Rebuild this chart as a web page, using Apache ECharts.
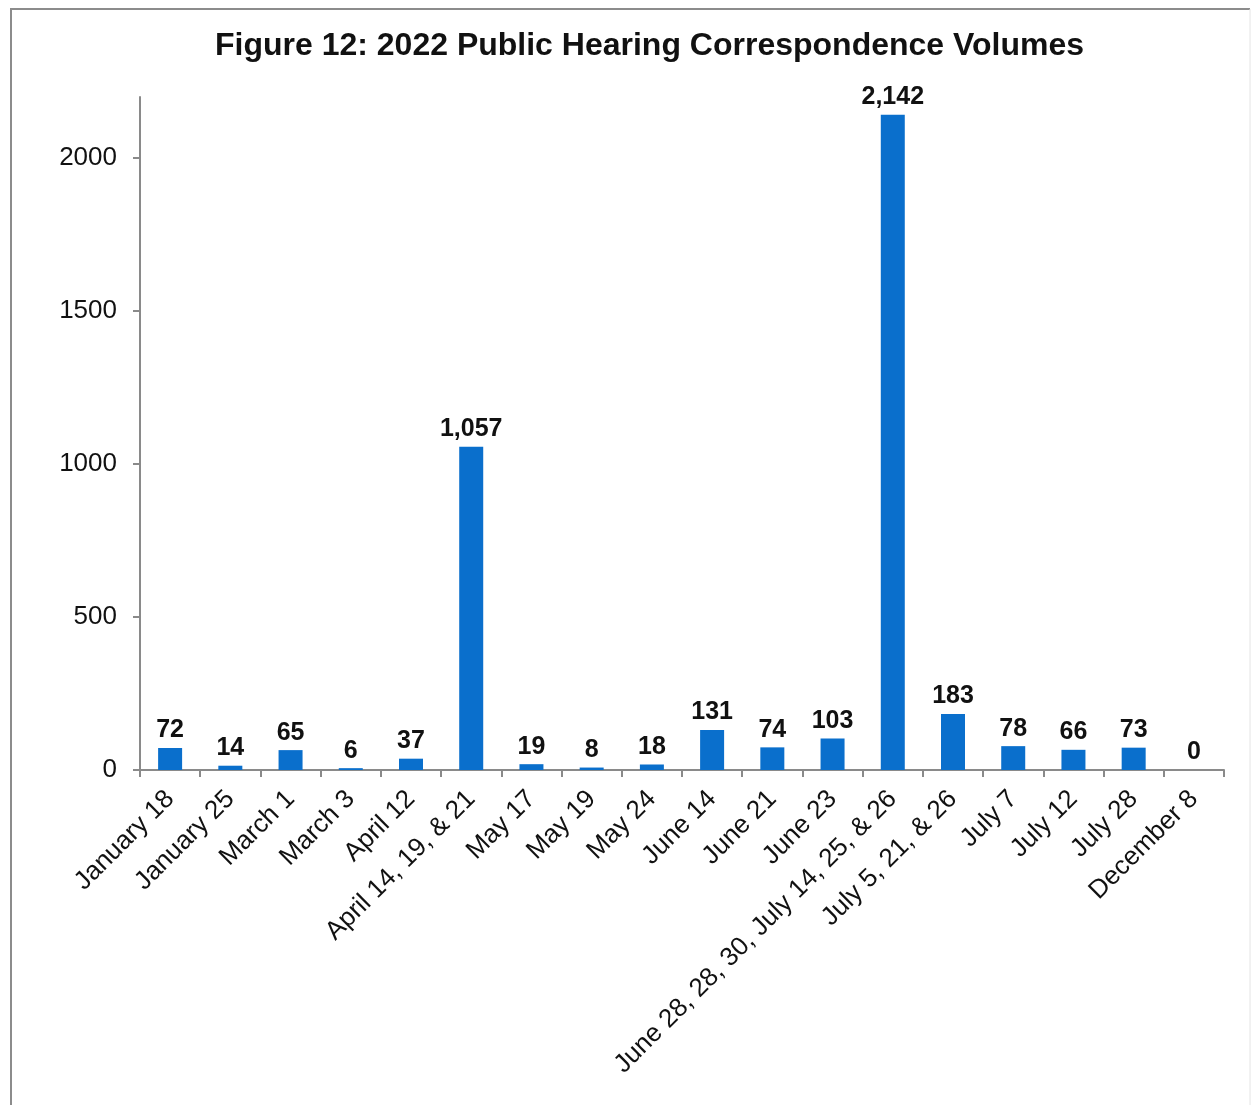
<!DOCTYPE html>
<html>
<head>
<meta charset="utf-8">
<title>Figure 12: 2022 Public Hearing Correspondence Volumes</title>
<script src="https://cdn.jsdelivr.net/npm/echarts@6/dist/echarts.min.js"></script>
<style>
  html, body { margin: 0; padding: 0; background: #ffffff; }
  #chart { width: 1252px; height: 1105px; }
</style>
</head>
<body>
<div id="chart"></div>
<script>
// Hearing dates (categories) and the number of pieces of correspondence for each
const hearingDates = [
  'January 18', 'January 25', 'March 1', 'March 3', 'April 12',
  'April 14, 19, & 21', 'May 17', 'May 19', 'May 24', 'June 14',
  'June 21', 'June 23', 'June 28, 28, 30, July 14, 25, & 26',
  'July 5, 21, & 26', 'July 7', 'July 12', 'July 28', 'December 8'
];
const correspondenceCounts = [
  72, 14, 65, 6, 37, 1057, 19, 8, 18, 131, 74, 103, 2142, 183, 78, 66, 73, 0
];
const yTickValues = [0, 500, 1000, 1500, 2000];

const chart = echarts.init(document.getElementById('chart'), null, { renderer: 'canvas' });

const fontFamily = 'Arial, "Liberation Sans", Helvetica, sans-serif';
const axisGray = '#8a8a8a';

chart.setOption({
  animation: false,
  backgroundColor: '#ffffff',
  title: {
    text: 'Figure 12: 2022 Public Hearing Correspondence Volumes',
    left: 210,
    top: 25,
    textStyle: {
      fontFamily: fontFamily,
      fontSize: 32,
      fontWeight: 'bold',
      color: '#111111'
    }
  },
  graphic: [
    // figure frame: top, left and a faint right edge
    { type: 'line', shape: { x1: 10, y1: 9, x2: 1250, y2: 9 }, style: { stroke: '#8c8c8c', lineWidth: 2 } },
    { type: 'line', shape: { x1: 11, y1: 9, x2: 11, y2: 1105 }, style: { stroke: '#8c8c8c', lineWidth: 2 } },
    { type: 'line', shape: { x1: 1250, y1: 9, x2: 1250, y2: 1105 }, style: { stroke: '#e4e4e4', lineWidth: 1 } }
  ],
  grid: {
    left: 140,
    right: 28,
    top: 97,
    bottom: 335,
    containLabel: false
  },
  xAxis: {
    type: 'category',
    data: hearingDates,
    boundaryGap: true,
    axisLine: { lineStyle: { color: axisGray, width: 2 } },
    axisTick: { show: true, alignWithLabel: false, length: 7, lineStyle: { color: axisGray, width: 2 } },
    axisLabel: {
      interval: 0,
      rotate: 45,
      margin: 25,
      fontFamily: fontFamily,
      fontSize: 26,
      color: '#111111'
    }
  },
  yAxis: {
    type: 'value',
    min: 0,
    max: 2200,
    interval: 500,
    splitLine: { show: false },
    axisLine: { show: true, lineStyle: { color: axisGray, width: 2 } },
    axisTick: { show: true, length: 7, customValues: yTickValues, lineStyle: { color: axisGray, width: 2 } },
    axisLabel: {
      customValues: yTickValues,
      margin: 23,
      fontFamily: fontFamily,
      fontSize: 26,
      color: '#111111',
      formatter: v => String(v)
    }
  },
  series: [{
    type: 'bar',
    data: correspondenceCounts,
    barWidth: 24,
    itemStyle: { color: '#0a6fcc' },
    label: {
      show: true,
      position: 'top',
      distance: 5,
      fontFamily: fontFamily,
      fontSize: 25,
      fontWeight: 'bold',
      color: '#111111',
      formatter: p => p.value.toLocaleString('en-US')
    }
  }]
});
</script>
</body>
</html>
